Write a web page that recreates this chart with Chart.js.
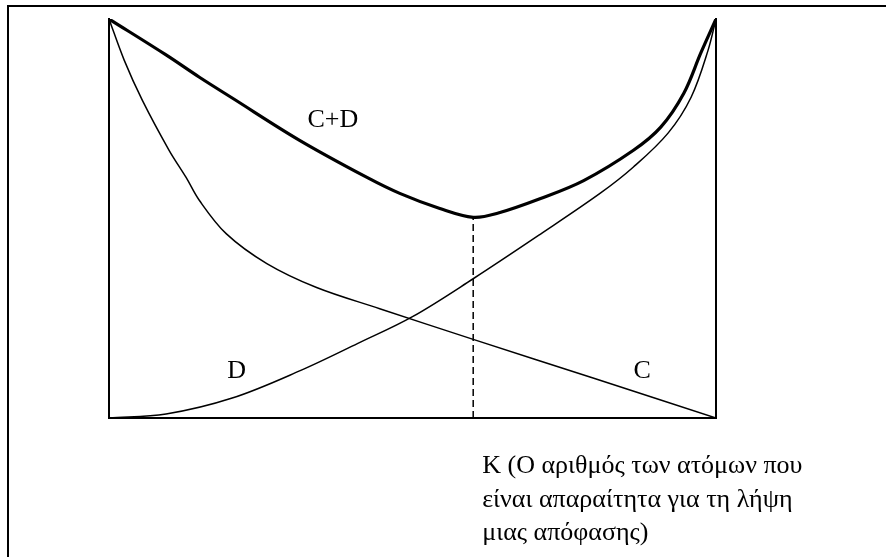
<!DOCTYPE html>
<html>
<head>
<meta charset="utf-8">
<script src="https://cdn.jsdelivr.net/npm/chart.js@4"></script>
<style>
  html, body { margin:0; padding:0; background:#fff; overflow:hidden; }
  #wrap { position:relative; width:886px; height:557px; overflow:hidden; }
  #frame { position:absolute; left:7px; top:5px; width:1000px; height:700px;
           border-top:2px solid #000; border-left:2px solid #000; pointer-events:none; }
  canvas { position:absolute; left:0; top:0; }
</style>
</head>
<body>
<div id="wrap">
  <canvas id="c" width="886" height="557"></canvas>
  <div id="frame"></div>
</div>
<script>
// κόστος D (φθίνουσα), κόστος C (αύξουσα), άθροισμα C+D
const dX = [0, 2.5, 5.5, 9.9, 12.7, 14.9, 19.3, 26, 34.2, 44.6, 60, 80, 100];
const dY = [100, 89.7, 79.6, 67.1, 60.3, 54.5, 46.2, 38.7, 32.7, 27.4, 19.7, 9.9, 0];

const cX = [0, 9.4, 20.3, 31.4, 41, 50, 60, 71.1, 81, 86.4, 92.1, 95.9, 98.7, 100];
const cY = [0, 1.0, 5.0, 11.8, 18.7, 25.4, 34.9, 46.1, 56.4, 62.9, 71.4, 80.4, 92.2, 100];

const sumX = [0, 9.4, 14.9, 20.3, 31.4, 42.5, 47.9, 54.5, 60, 64, 71.1, 78.2, 86.4, 90.9, 94.7, 97.5, 100];
const sumY = [100, 91.0, 85.4, 80.2, 69.6, 60.3, 56.3, 52.5, 50.3, 51.3, 55.0, 59.5, 67.1, 72.9, 81.4, 91.5, 100];

// βέλτιστο K
const optX = 60;
const optY = 50.3;

// ετικέτες καμπυλών: [κείμενο, x, y]
const curveLabels = [
  ['C+D', 32.7, 72.9],
  ['D', 19.5, 10.1],
  ['C', 86.4, 10.1]
];

const axisCaption = [
  'K (Ο αριθμός των ατόμων που',
  'είναι απαραίτητα για τη λήψη',
  'μιας απόφασης)'
];

const FONT = '26px "Liberation Serif", "Times New Roman", serif';

const pts = (xs, ys) => xs.map((x, i) => ({ x: x, y: ys[i] }));

const labelsPlugin = {
  id: 'labels',
  afterDraw(chart) {
    const ctx = chart.ctx;
    const xs = chart.scales.x, ys = chart.scales.y;
    ctx.save();
    ctx.fillStyle = '#000';
    ctx.font = FONT;
    ctx.textAlign = 'left';
    ctx.textBaseline = 'alphabetic';
    curveLabels.forEach(l => {
      ctx.fillText(l[0], xs.getPixelForValue(l[1]), ys.getPixelForValue(l[2]));
    });
    const x0 = xs.getPixelForValue(optX) + 9;
    axisCaption.forEach((t, i) => {
      ctx.fillText(t, x0, ys.bottom + 55 + i * 33.5);
    });
    ctx.restore();
  }
};

const noSize = s => { if (s.isHorizontal()) s.height = 0; else s.width = 0; };
const edge = (pos) => ({
  type: 'linear', position: pos, min: 0, max: 100,
  ticks: { display: false },
  grid: { display: false, drawTicks: false },
  border: { display: true, color: '#000', width: 2 },
  afterFit: noSize
});

const curve = (data, w) => ({
  data: data, showLine: true, borderColor: '#000', borderWidth: w,
  pointRadius: 0, tension: 0.35
});

new Chart(document.getElementById('c'), {
  type: 'scatter',
  data: {
    datasets: [
      curve(pts(dX, dY), 1.5),
      curve(pts(cX, cY), 1.5),
      curve(pts(sumX, sumY), 3.2),
      { data: [{ x: optX, y: 0 }, { x: optX, y: optY }], showLine: true, borderColor: '#000',
        borderWidth: 1.5, borderDash: [7, 4], pointRadius: 0 }
    ]
  },
  options: {
    responsive: false,
    animation: false,
    devicePixelRatio: 1,
    layout: { padding: { left: 109, right: 170, top: 19, bottom: 139 } },
    plugins: { legend: { display: false }, tooltip: { enabled: false } },
    scales: {
      x: edge('bottom'),
      y: edge('left'),
      yR: edge('right')
    }
  },
  plugins: [labelsPlugin]
});
</script>
</body>
</html>
